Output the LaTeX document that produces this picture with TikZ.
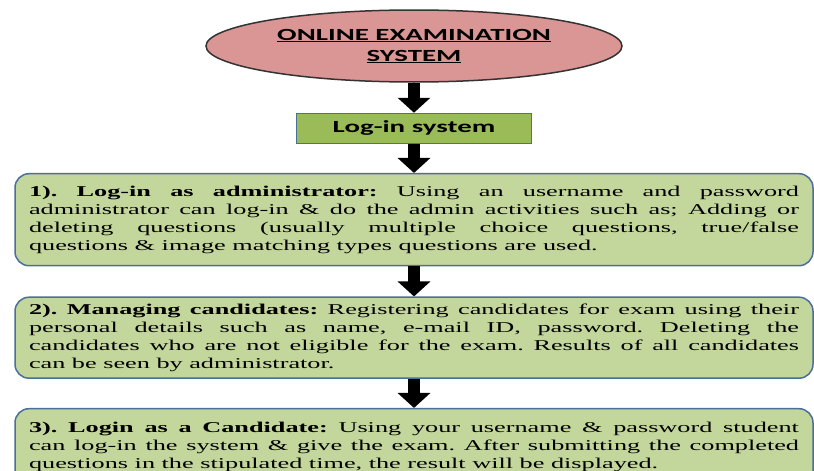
\documentclass[tikz,border=0pt]{standalone}
\usepackage{fontspec}
\setmainfont{Liberation Serif}
\newfontfamily\titlefont[FakeStretch=1.7]{Carlito}
\newfontfamily\bodyfont[FakeStretch=1.75]{Liberation Serif}
\usetikzlibrary{positioning,shapes.geometric,arrows.meta}
\definecolor{titlepink}{HTML}{D99694}
\definecolor{loginolive}{HTML}{9BBB59}
\definecolor{stepgreen}{HTML}{C3D69B}
\definecolor{edgeblue}{HTML}{4A6F9A}
\frenchspacing
\emergencystretch=3em
\hyphenpenalty=10000

\begin{document}
\begin{tikzpicture}[x=1pt,y=-1pt]
        \tikzset{titlenode/.style={draw=black!80,line width=1.5pt,ellipse,fill=titlepink,
                minimum width=416pt,minimum height=72pt,align=center,
                font=\titlefont\fontsize{17}{21}\selectfont\bfseries},
            loginnode/.style={draw=edgeblue,line width=1.2pt,fill=loginolive,
                minimum width=235pt,minimum height=30pt,inner sep=0pt,
                font=\titlefont\fontsize{17}{21}\selectfont\bfseries},
            stepnode/.style={draw=edgeblue,line width=1.5pt,fill=stepgreen,rounded corners=14pt,
                text width=770pt,inner xsep=14pt,inner ysep=0pt,align=justify,
                font=\bodyfont\fontsize{15}{18}\selectfont},
            flow/.style={line width=12pt,-{Triangle[width=32pt,length=15pt]}}}
        \clip (0,0) rectangle (814,471);
        \node[titlenode] (title) at (414,46) {\underline{ONLINE EXAMINATION}\\\underline{SYSTEM}};
        \node[loginnode,below=30pt of title] (login) {Log-in system};
        \node[stepnode,minimum height=92pt,below=29pt of login] (admin) {\textbf{1). Log-in as administrator:} Using an username and password\linebreak
            administrator can log-in \& do the admin activities such as; Adding or\linebreak
            deleting questions (usually multiple choice questions, true/false\linebreak
            questions \& image matching types questions are used.};
        \node[stepnode,minimum height=81pt,below=30pt of admin] (manage) {\textbf{2). Managing candidates:} Registering candidates for exam using their\linebreak
            personal details such as name, e-mail ID, password. Deleting the\linebreak
            candidates who are not eligible for the exam. Results of all candidates\linebreak
            can be seen by administrator.};
        \node[stepnode,minimum height=76pt,below=29pt of manage] (cand) {\textbf{3). Login as a Candidate:} Using your username \& password student\linebreak
            can log-in the system \& give the exam. After submitting the completed\linebreak
            questions in the stipulated time, the result will be displayed.};
        \draw[flow] (title) -- (login);
        \draw[flow] (login) -- (admin);
        \draw[flow] (admin) -- (manage);
        \draw[flow] (manage) -- (cand);
    \end{tikzpicture}
\end{document}
